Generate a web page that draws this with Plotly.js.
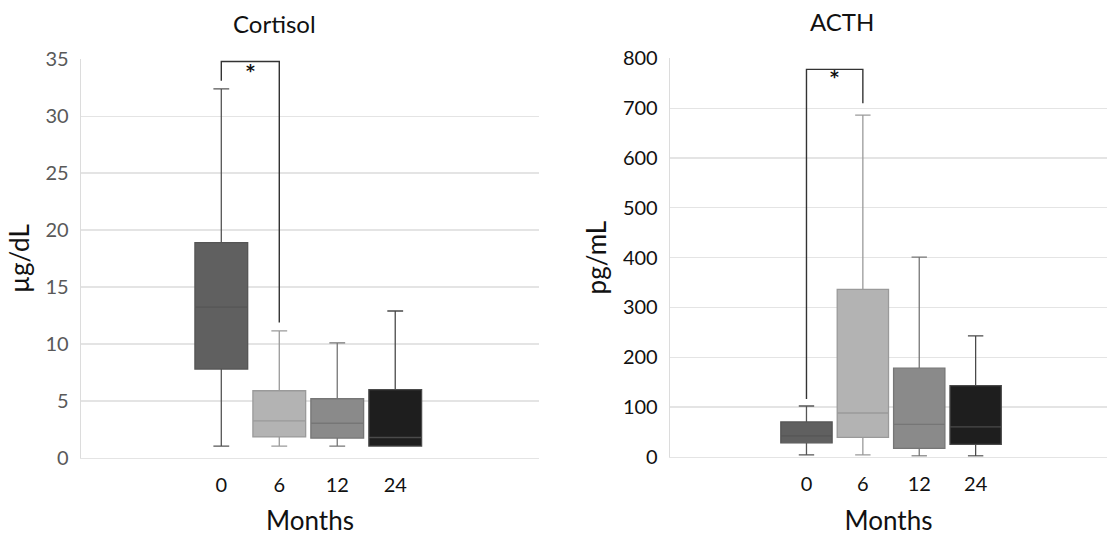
<!DOCTYPE html>
<html>
<head>
<meta charset="utf-8">
<script src="https://cdn.plot.ly/plotly-3.0.1.min.js"></script>
<style>html,body{margin:0;padding:0;background:#fff;}#chart{width:1107px;height:536px;}</style>
</head>
<body>
<div id="chart"></div>
<script>
// ---- Data ----
const months = ["0", "6", "12", "24"];

// Cortisol (µg/dL)
const cortLower  = [1.05, 1.05, 1.05, 1.05];
const cortQ1     = [7.8, 1.85, 1.75, 1.05];
const cortMedian = [13.25, 3.25, 3.05, 1.8];
const cortQ3     = [18.9, 5.9, 5.2, 6.0];
const cortUpper  = [32.4, 11.15, 10.1, 12.9];

// ACTH (pg/mL)
const acthLower  = [4, 4, 2, 2];
const acthQ1     = [28, 39, 17, 25];
const acthMedian = [42, 88, 65, 60];
const acthQ3     = [70, 336, 178, 143];
const acthUpper  = [102, 686, 401, 243];

// significance brackets: [from category, to category, left leg bottom, top, right leg bottom]
const cortBracket = ["0", "6", 33.1, 34.8, 11.9];
const acthBracket = ["0", "6", 116, 778, 710];
const sigLabel = "*";

// ---- Styles ----
const fills = ["#606060", "#b3b3b3", "#8a8a8a", "#1e1e1e"];
const lines = ["#555555", "#9a9a9a", "#767676", "#4a4a4a"];
const FONT = "Lato, 'Open Sans', sans-serif";

const traces = [];
function addBoxes(lower, q1, med, q3, upper, xa, ya) {
  months.forEach((m, i) => {
    traces.push({
      type: "box",
      x: [m],
      lowerfence: [lower[i]],
      q1: [q1[i]],
      median: [med[i]],
      q3: [q3[i]],
      upperfence: [upper[i]],
      xaxis: xa, yaxis: ya,
      fillcolor: fills[i],
      line: {color: lines[i], width: 1.3},
      whiskerwidth: 0.3,
      width: 0.91,
      boxpoints: false,
      showlegend: false,
      hoverinfo: "skip"
    });
  });
}
addBoxes(cortLower, cortQ1, cortMedian, cortQ3, cortUpper, "x", "y");
addBoxes(acthLower, acthQ1, acthMedian, acthQ3, acthUpper, "x2", "y2");

function bracket(b, xr, yr) {
  const i0 = months.indexOf(b[0]);
  const i1 = months.indexOf(b[1]);
  return {
    type: "path", xref: xr, yref: yr,
    path: `M ${i0} ${b[2]} L ${i0} ${b[3]} L ${i1} ${b[3]} L ${i1} ${b[4]}`,
    line: {color: "#333333", width: 1.4}
  };
}
function star(b, xr, yr, yv) {
  const i0 = months.indexOf(b[0]);
  const i1 = months.indexOf(b[1]);
  return {
    xref: xr, yref: yr, x: (i0 + i1) / 2, y: yv, text: "<b>" + sigLabel + "</b>",
    showarrow: false, font: {family: "'DejaVu Sans', sans-serif", size: 17, color: "#111"}, yanchor: "middle"
  };
}

const gridC = "#e4e4e4";
const yCommon = {
  showgrid: true, gridcolor: gridC, gridwidth: 1.3,
  zeroline: false, showline: true, linecolor: "#dcdcdc", linewidth: 1.3,
  ticks: "", ticklabelstandoff: 7, automargin: false, fixedrange: true
};
const xCommon = {
  type: "category", showgrid: false, zeroline: false,
  showline: true, linecolor: gridC, linewidth: 1.3,
  ticks: "", ticklabelstandoff: 9, automargin: false,
  tickfont: {family: FONT, size: 20, color: "#111"},
  title: {text: "Months", font: {family: FONT, size: 26, color: "#111"}, standoff: 20}
};

const layout = {
  width: 1107, height: 536,
  margin: {l: 81, r: 0, t: 58, b: 78},
  paper_bgcolor: "#fff", plot_bgcolor: "#fff",
  boxmode: "overlay",
  font: {family: FONT},
  xaxis: Object.assign({}, xCommon, {domain: [0, 0.4464], range: [-2.42, 5.48], anchor: "y"}),
  xaxis2: Object.assign({}, xCommon, {domain: [0.5741, 1], range: [-2.42, 5.33], anchor: "y2"}),
  yaxis: Object.assign({}, yCommon, {
    domain: [0, 0.997], range: [0, 35], dtick: 5, anchor: "x",
    tickfont: {family: FONT, size: 20, color: "#595959"},
    title: {text: "µg/dL", font: {family: FONT, size: 26, color: "#111"}, standoff: 8}
  }),
  yaxis2: Object.assign({}, yCommon, {
    domain: [0.003, 0.999], range: [0, 800], dtick: 100, anchor: "x2",
    tickfont: {family: FONT, size: 20, color: "#111"},
    title: {text: "pg/mL", font: {family: FONT, size: 26, color: "#111"}, standoff: 8}
  }),
  shapes: [bracket(cortBracket, "x", "y"), bracket(acthBracket, "x2", "y2")],
  annotations: [
    star(cortBracket, "x", "y", 34.0),
    star(acthBracket, "x2", "y2", 762),
    {text: "Cortisol", xref: "paper", yref: "paper", x: (274 - 81) / 1026, y: (536 - 78 - 23) / 400, showarrow: false,
     font: {family: FONT, size: 24, color: "#111"}, xanchor: "center", yanchor: "middle"},
    {text: "ACTH", xref: "paper", yref: "paper", x: (842 - 81) / 1026, y: (536 - 78 - 22) / 400, showarrow: false,
     font: {family: FONT, size: 24, color: "#111"}, xanchor: "center", yanchor: "middle"}
  ]
};

Plotly.newPlot("chart", traces, layout, {staticPlot: true, displayModeBar: false});
</script>
</body>
</html>
